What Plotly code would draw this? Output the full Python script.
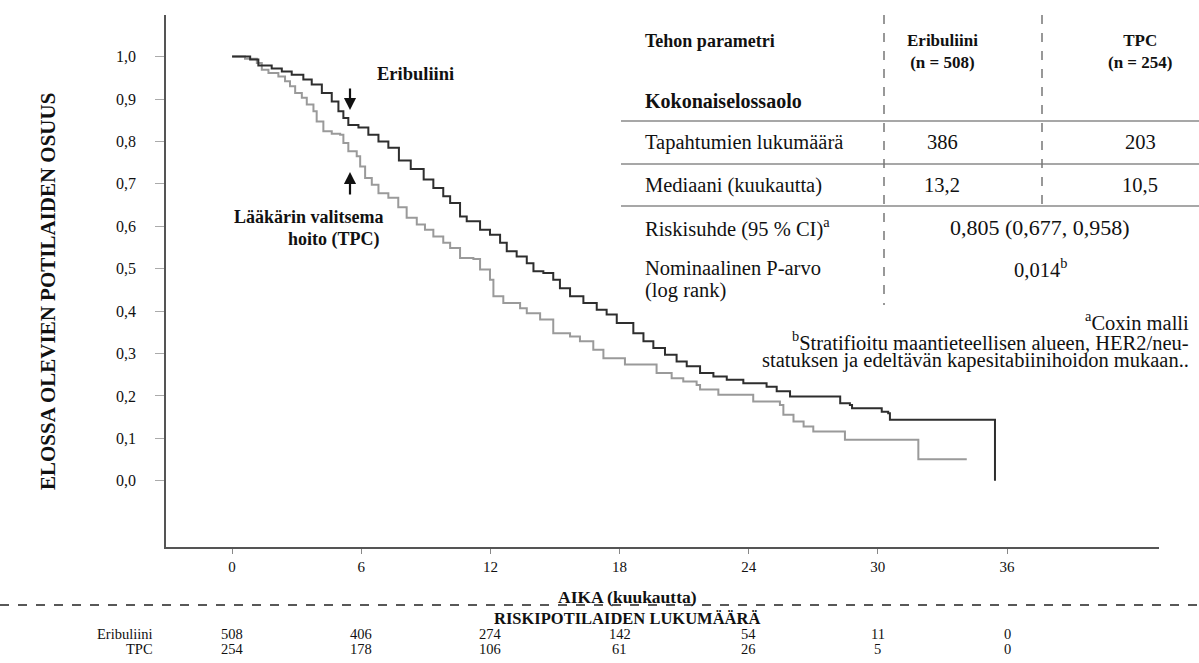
import plotly.graph_objects as go

# ---------------- data ----------------
erib_t = [0, 0.84, 1.22, 1.84, 2.31, 2.77, 3.31, 3.70, 4.17, 4.63,
          4.94, 5.17, 5.40, 5.87, 6.33, 6.80, 7.26, 7.75, 8.3, 8.9,
          9.35, 9.81, 10.13, 10.59, 10.90, 11.52, 11.98, 12.45, 12.76, 13.22,
          13.69, 14.0, 14.46, 14.92, 15.23, 15.70, 16.32, 16.94, 17.40, 17.87,
          18.64, 19.11, 19.57, 20.11, 20.65, 21.12, 21.74, 22.36, 22.98, 23.75,
          24.83, 25.30, 25.92, 28.25, 28.7, 28.8, 30.18, 30.48, 30.56, 35.44]
erib_s = [1.0, 0.993, 0.979, 0.972, 0.965, 0.957, 0.946, 0.934, 0.914, 0.894,
          0.871, 0.855, 0.839, 0.833, 0.816, 0.800, 0.785, 0.755, 0.735, 0.71,
          0.690, 0.671, 0.655, 0.623, 0.612, 0.592, 0.580, 0.561, 0.541, 0.529,
          0.513, 0.494, 0.490, 0.474, 0.454, 0.435, 0.419, 0.403, 0.392, 0.372,
          0.348, 0.329, 0.313, 0.297, 0.281, 0.270, 0.254, 0.246, 0.238, 0.230,
          0.222, 0.211, 0.199, 0.183, 0.179, 0.171, 0.163, 0.159, 0.144, 0.0]

tpc_t = [0, 0.6, 1.15, 1.38, 1.69, 2.15, 2.46, 2.69, 2.93, 3.24,
         3.47, 3.78, 3.93, 4.24, 4.63, 5.02, 5.17, 5.40, 5.79, 5.95,
         6.18, 6.49, 6.80, 7.26, 7.72, 8.11, 8.58, 8.96, 9.35, 9.81,
         10.13, 10.59, 11.21, 11.52, 11.98, 12.14, 12.60, 13.38, 13.69, 14.31,
         14.92, 15.70, 16.16, 16.78, 17.25, 18.25, 19.72, 20.42, 20.96, 21.58,
         21.74, 22.59, 24.21, 25.45, 25.61, 26.08, 26.55, 27.0, 28.47, 31.88,
         34.13]
tpc_s = [1.0, 0.995, 0.985, 0.969, 0.961, 0.953, 0.942, 0.930, 0.914, 0.903,
         0.887, 0.871, 0.847, 0.824, 0.818, 0.816, 0.796, 0.777, 0.765, 0.741,
         0.714, 0.698, 0.678, 0.667, 0.645, 0.620, 0.604, 0.592, 0.576, 0.561,
         0.549, 0.525, 0.523, 0.498, 0.474, 0.435, 0.419, 0.407, 0.395, 0.380,
         0.348, 0.340, 0.329, 0.309, 0.289, 0.274, 0.254, 0.242, 0.234, 0.226,
         0.215, 0.203, 0.187, 0.179, 0.156, 0.140, 0.128, 0.116, 0.097, 0.051,
         0.051]

x_ticks = [0, 6, 12, 18, 24, 30, 36]
y_ticks = [0.0, 0.1, 0.2, 0.3, 0.4, 0.5, 0.6, 0.7, 0.8, 0.9, 1.0]
y_ticktext = ["0,0", "0,1", "0,2", "0,3", "0,4", "0,5", "0,6", "0,7", "0,8", "0,9", "1,0"]

risk_labels = ["Eribuliini", "TPC"]
risk_erib = [508, 406, 274, 142, 54, 11, 0]
risk_tpc = [254, 178, 106, 61, 26, 5, 0]

tbl_header = ["Tehon parametri", "Eribuliini<br>(n = 508)", "TPC<br>(n = 254)"]
tbl_section = "Kokonaiselossaolo"
tbl_rows = ["Tapahtumien lukumäärä", "Mediaani (kuukautta)"]
tbl_erib = ["386", "13,2"]
tbl_tpc = ["203", "10,5"]
tbl_hr_label = "Riskisuhde (95 % CI)<sup>a</sup>"
tbl_hr_value = "0,805 (0,677, 0,958)"
tbl_p_label = ["Nominaalinen P-arvo", "(log rank)"]
tbl_p_value = "0,014<sup>b</sup>"
footnotes = ["<sup>a</sup>Coxin malli",
             "<sup>b</sup>Stratifioitu maantieteellisen alueen, HER2/neu-",
             "statuksen ja edeltävän kapesitabiinihoidon mukaan.."]

# ---------------- layout helpers ----------------
W, H = 1199, 663
L, R, T, B = 166, 1159, 15, 547
SERIF = "Liberation Serif, Times New Roman, serif"
INK = "#111111"


def px(x):
    return (x - L) / (R - L)


def py(y):
    return (B - y) / (B - T)


fig = go.Figure()
fig.add_trace(go.Scatter(x=tpc_t, y=tpc_s, mode="lines", line_shape="hv",
                         line=dict(color="#9a9a9a", width=2), name="TPC",
                         showlegend=False))
fig.add_trace(go.Scatter(x=erib_t, y=erib_s, mode="lines", line_shape="hv",
                         line=dict(color="#2e2e2e", width=2), name="Eribuliini",
                         showlegend=False))

fig.update_xaxes(range=[-3.07, 43.06], tickvals=x_ticks, ticktext=[str(v) for v in x_ticks],
                 showline=True, linecolor="#555555", linewidth=1.5, ticks="outside",
                 ticklen=5, tickcolor="#888888", tickwidth=1, showgrid=False,
                 zeroline=False, tickfont=dict(family=SERIF, size=15, color=INK))
fig.update_yaxes(range=[-0.156, 1.098], tickvals=y_ticks, ticktext=y_ticktext,
                 showline=True, linecolor="#555555", linewidth=1.5, ticks="outside",
                 ticklen=9, tickcolor="#aaaaaa", tickwidth=1, showgrid=False,
                 zeroline=False, ticklabelstandoff=16,
                 tickfont=dict(family=SERIF, size=16, color=INK))

ann = []
shapes = []


def text(x, y, s, size=17, bold=False, xanchor="left", xref="paper"):
    ann.append(dict(x=x if xref != "paper" else px(x), y=py(y), xref=xref, yref="paper",
                    text=("<b>%s</b>" % s) if bold else s, showarrow=False,
                    xanchor=xanchor, yanchor="middle",
                    align="center" if xanchor == "center" else xanchor,
                    font=dict(family=SERIF, size=size, color=INK)))


def arrow(x, y_head, y_tail):
    ann.append(dict(x=px(x), y=py(y_head), xref="paper", yref="paper", text="",
                    showarrow=True, ax=0, ay=y_tail - y_head, arrowhead=2,
                    arrowsize=1.1, arrowwidth=2.2, arrowcolor=INK))


# axis titles
ann.append(dict(x=px(48), y=py(292), xref="paper", yref="paper",
                text="<b>ELOSSA OLEVIEN POTILAIDEN OSUUS</b>", textangle=-90,
                showarrow=False, xanchor="center", yanchor="middle",
                font=dict(family=SERIF, size=21, color=INK)))
text(627, 597, "AIKA (kuukautta)", size=17.5, bold=True, xanchor="center")

# curve labels
text(375, 74, "Eribuliini", size=18.5, bold=True)
arrow(350, 110, 87)
arrow(350, 172, 196)
text(232, 217, "Lääkärin valitsema", size=18, bold=True)
text(382, 239, "hoito (TPC)", size=18, bold=True, xanchor="right")

# efficacy table
C1, C2, C3, CM = 643, 942, 1140, 1040
BODY = 20.5
text(C1, 41, tbl_header[0], size=18, bold=True)
text(C2, 51, tbl_header[1], size=17, bold=True, xanchor="center")
text(C3, 51, tbl_header[2], size=17, bold=True, xanchor="center")
text(C1, 101, tbl_section, size=20, bold=True)
row_y = [142, 185]
for i, lab in enumerate(tbl_rows):
    text(C1, row_y[i], lab, size=BODY)
    text(C2, row_y[i], tbl_erib[i], size=BODY, xanchor="center")
    text(C3, row_y[i], tbl_tpc[i], size=BODY, xanchor="center")
text(C1, 227, tbl_hr_label, size=BODY)
text(CM, 227, tbl_hr_value, size=22, xanchor="center")
text(C1, 268, tbl_p_label[0], size=BODY)
text(C1, 290, tbl_p_label[1], size=BODY)
text(CM, 268, tbl_p_value, size=BODY, xanchor="center")
for i, fn in enumerate(footnotes):
    text(1191, 321 + i * 19.5, fn, size=20.5, xanchor="right")

for yl in [121, 164, 206]:
    shapes.append(dict(type="line", xref="paper", yref="paper", x0=px(621), x1=px(1199),
                       y0=py(yl), y1=py(yl), line=dict(color="#8a8a8a", width=1.5)))
shapes.append(dict(type="line", xref="paper", yref="paper", x0=px(884), x1=px(884),
                   y0=py(15), y1=py(305), line=dict(color="#777777", width=1.5, dash="dash")))
shapes.append(dict(type="line", xref="paper", yref="paper", x0=px(1042), x1=px(1042),
                   y0=py(15), y1=py(205), line=dict(color="#777777", width=1.5, dash="dash")))

# risk table
shapes.append(dict(type="line", xref="paper", yref="paper", x0=px(0), x1=px(1199),
                   y0=py(605), y1=py(605), line=dict(color="#222222", width=1.5, dash="dash")))
text(627, 618, "RISKIPOTILAIDEN LUKUMÄÄRÄ", size=16.5, bold=True, xanchor="center")
text(155, 634, risk_labels[0], size=14.5, xanchor="right")
text(155, 649, risk_labels[1], size=14.5, xanchor="right")
for i, t in enumerate(x_ticks):
    text(t, 634, str(risk_erib[i]), size=14.5, xanchor="center", xref="x")
    text(t, 649, str(risk_tpc[i]), size=14.5, xanchor="center", xref="x")

fig.update_layout(width=W, height=H, margin=dict(l=L, r=W - R, t=T, b=H - B),
                  plot_bgcolor="white", paper_bgcolor="white",
                  annotations=ann, shapes=shapes, showlegend=False)

fig.write_html("out.html")
